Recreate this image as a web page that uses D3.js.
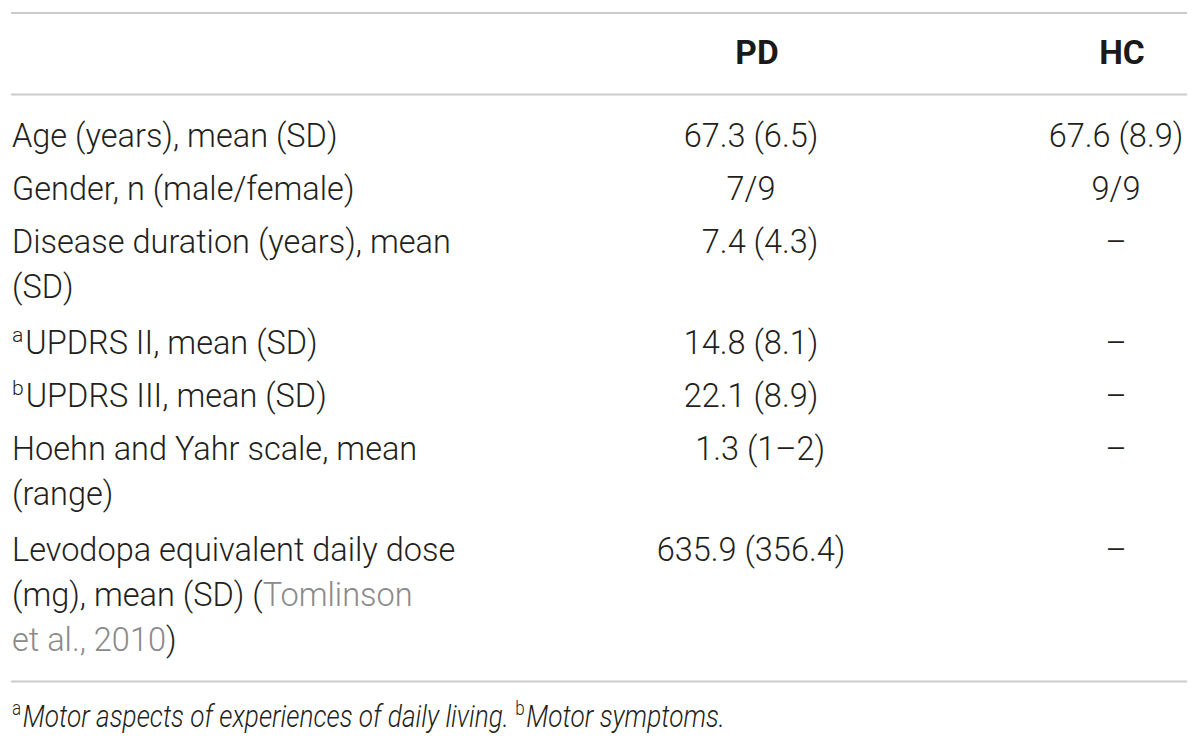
<!DOCTYPE html>
<html>
<head>
<meta charset="utf-8">
<script src="https://cdn.jsdelivr.net/npm/d3@7"></script>
<style>
  html, body { margin: 0; padding: 0; background: #ffffff; }
  svg { display: block; }
  text { font-family: "Helvetica Neue", Roboto, "Liberation Sans", sans-serif; }
</style>
</head>
<body>
<svg id="chart" width="1200" height="749"></svg>
<script>
// ---- data ----
const columns = ["", "PD", "HC"];
// each label is a list of lines; each line is a list of [text, kind] pieces
// kind: "t" normal, "sup" superscript, "cite" citation (grey)
const rowLabels = [
  [[["Age (years), mean (SD)", "t"]]],
  [[["Gender, n (male/female)", "t"]]],
  [[["Disease duration (years), mean", "t"]], [["(SD)", "t"]]],
  [[["a", "sup"], ["UPDRS II, mean (SD)", "t"]]],
  [[["b", "sup"], ["UPDRS III, mean (SD)", "t"]]],
  [[["Hoehn and Yahr scale, mean", "t"]], [["(range)", "t"]]],
  [[["Levodopa equivalent daily dose", "t"]],
   [["(mg), mean (SD) (", "t"], ["Tomlinson", "cite"]],
   [["et al., 2010", "cite"], [")", "t"]]]
];
const pdValues = ["67.3 (6.5)", "7/9", "\u20077.4 (4.3)", "14.8 (8.1)", "22.1 (8.9)", "\u20071.3 (1\u20132)", "635.9 (356.4)"];
const hcValues = ["67.6 (8.9)", "9/9", "\u2013", "\u2013", "\u2013", "\u2013", "\u2013"];
const footnote = [["a", "sup"], ["Motor aspects of experiences of daily living. ", "it"], ["b", "sup"], ["Motor symptoms.", "it"]];

// ---- layout ----
const W = 1200, H = 749;
const svg = d3.select("#chart");
const ruleColor = "#cccccc";
const textColor = "#231f20";
const citeColor = "#8a8a8a";
const fs = 32.5;
const lineH = 45;
const ruleX0 = 11, ruleX1 = 1187;

const colX = d3.scaleOrdinal().domain(columns).range([12, 751, 1116]);

// row baselines
const rowHeights = rowLabels.map(l => 53 + (l.length - 1) * 48);
const rowStarts = [];
let acc = 147;
rowHeights.forEach(h => { rowStarts.push(acc); acc += h; });
const rowY = d3.scaleOrdinal().domain(d3.range(rowLabels.length)).range(rowStarts);

// rules
const rules = [13, 94.5, 681.5];
svg.selectAll("line.rule").data(rules).join("line")
  .attr("class", "rule")
  .attr("x1", ruleX0).attr("x2", ruleX1)
  .attr("y1", d => d).attr("y2", d => d)
  .attr("stroke", ruleColor).attr("stroke-width", 2);

// header
svg.selectAll("text.head").data(columns.filter(c => c)).join("text")
  .attr("class", "head")
  .attr("x", d => colX(d) + 6).attr("y", 64)
  .attr("text-anchor", "middle")
  .attr("font-size", 33.5).attr("font-weight", 700)
  .attr("fill", "#1a1a1a")
  .text(d => d);

function addPieces(textSel, pieces, size, italic) {
  let prevSup = false;
  pieces.forEach(([str, kind]) => {
    const ts = textSel.append("tspan").text(str);
    if (kind === "sup") {
      ts.attr("font-size", size * 0.65).attr("dy", -size * 0.38).attr("font-style", "normal");
      prevSup = true;
    } else {
      ts.attr("font-size", size);
      if (prevSup) { ts.attr("dy", size * 0.38).attr("dx", 2); prevSup = false; }
      if (kind === "cite") ts.attr("fill", citeColor);
      if (kind === "it" || italic) ts.attr("font-style", "italic");
    }
  });
}

// row labels
rowLabels.forEach((lines, i) => {
  lines.forEach((pieces, j) => {
    const t = svg.append("text")
      .attr("x", colX(""))
      .attr("y", rowY(i) + j * lineH)
      .attr("fill", textColor)
      .attr("font-weight", 300)
      .attr("font-size", fs);
    addPieces(t, pieces, fs, false);
  });
});

// values
[["PD", pdValues], ["HC", hcValues]].forEach(([col, vals]) => {
  svg.selectAll("text.v" + col).data(vals).join("text")
    .attr("class", "v" + col)
    .attr("x", colX(col))
    .attr("y", (d, i) => rowY(i))
    .attr("text-anchor", "middle")
    .attr("fill", textColor)
    .attr("font-weight", 300)
    .attr("font-size", fs)
    .text(d => d);
});

// footnote (reference typeface is condensed; fit to the same run length)
const fnWidth = 710;
const fn = svg.append("text")
  .attr("x", 0).attr("y", 0)
  .attr("fill", textColor)
  .attr("font-weight", 300)
  .attr("font-size", 31);
addPieces(fn, footnote, 31, true);
const w = fn.node().getComputedTextLength() || fnWidth;
fn.attr("transform", `translate(12,727) scale(${fnWidth / w},1)`);
</script>
</body>
</html>
